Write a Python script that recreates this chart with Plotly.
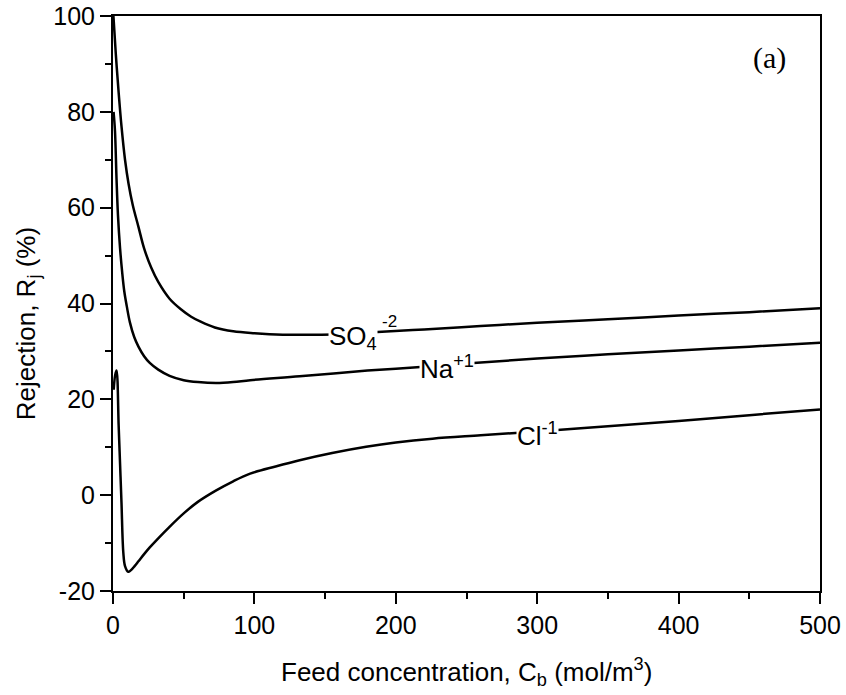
import numpy as np
import plotly.graph_objects as go

# Feed concentration (mol/m3) and rejection (%) for each ion
so4_x = [0.3, 2, 4, 6, 8.5, 11, 14, 18, 22, 27, 32, 40, 48, 55, 62, 72, 85, 100, 120, 140, 160, 184, 220, 260, 300, 350, 400, 450, 500]
so4_y = [100, 92, 84, 77, 70, 65, 60.5, 56, 51.5, 47.5, 44.5, 41, 38.8, 37.3, 36.2, 35, 34.2, 33.8, 33.5, 33.5, 33.6, 34, 34.6, 35.3, 36, 36.7, 37.5, 38.2, 39]

na_x = [0.4, 1.4, 2.5, 3.5, 5, 6.5, 8, 9.7, 12, 15, 18, 22, 26, 32, 40, 50, 60, 73, 85, 97, 132, 180, 215, 255, 300, 350, 400, 450, 500]
na_y = [80, 76, 66, 58.5, 51.5, 46.5, 42.5, 39.5, 36, 33, 31, 29, 27.6, 26.2, 24.9, 24, 23.6, 23.4, 23.6, 24, 24.8, 26, 26.7, 27.6, 28.5, 29.4, 30.2, 31, 31.8]

cl_x = [0.5, 1.5, 2.5, 4, 5, 6, 7.3, 8.5, 10.8, 12.5, 15, 18, 22, 26, 32, 40, 50, 60, 73, 85, 97, 115, 132, 155, 179, 200, 226, 260, 300, 350, 400, 450, 500]
cl_y = [22, 25, 26, 14.5, 6.5, -1.5, -12, -14.8, -16, -15.7, -14.9, -13.8, -12.3, -10.9, -9, -6.6, -3.8, -1.4, 1, 2.9, 4.5, 6, 7.3, 8.8, 10.1, 11, 11.8, 12.5, 13.3, 14.4, 15.5, 16.7, 17.9]

# label placement along each curve (feed concentration)
label_x = {"so4": 170, "na": 236, "cl": 300}

x_ticks = [0, 100, 200, 300, 400, 500]
y_ticks = [-20, 0, 20, 40, 60, 80, 100]
y_ticktext = ["-20", "0", "20", "40", "60", "80", "100"]

FONT = "Liberation Sans, Arial, sans-serif"

fig = go.Figure()
for xs, ys in [(so4_x, so4_y), (na_x, na_y), (cl_x, cl_y)]:
    fig.add_trace(go.Scatter(x=xs, y=ys, mode="lines",
                             line=dict(color="black", width=2.5, shape="spline", smoothing=1.0),
                             showlegend=False, hoverinfo="skip"))

def yat(xs, ys, x):
    return float(np.interp(x, xs, ys))

ann = []
ann.append(dict(x=label_x["so4"], y=yat(so4_x, so4_y, label_x["so4"]), xref="x", yref="y",
                text="SO<sub>4</sub>", showarrow=False, bgcolor="white", borderpad=0,
                font=dict(family=FONT, size=26, color="black"), yshift=-4))
ann.append(dict(x=label_x["so4"], y=yat(so4_x, so4_y, label_x["so4"]), xref="x", yref="y",
                text="-2", showarrow=False, xshift=36, yshift=12,
                font=dict(family=FONT, size=17, color="black")))
ann.append(dict(x=label_x["na"], y=yat(na_x, na_y, label_x["na"]), xref="x", yref="y",
                text="Na<sup>+1</sup>", showarrow=False, bgcolor="white", borderpad=0,
                font=dict(family=FONT, size=26, color="black"), yshift=-3))
ann.append(dict(x=label_x["cl"], y=yat(cl_x, cl_y, label_x["cl"]), xref="x", yref="y",
                text="Cl<sup>-1</sup>", showarrow=False, bgcolor="white", borderpad=0,
                font=dict(family=FONT, size=26, color="black"), yshift=-3))
ann.append(dict(x=0.928, y=0.927, xref="paper", yref="paper", text="(a)", showarrow=False,
                xanchor="center", yanchor="middle",
                font=dict(family="Liberation Serif, Times New Roman, serif", size=30, color="black")))
ann.append(dict(x=0.5, y=-0.141, xref="paper", yref="paper", showarrow=False,
                xanchor="center", yanchor="middle",
                text="Feed concentration, C<sub>b</sub> (mol/m<sup>3</sup>)",
                font=dict(family=FONT, size=26, color="black")))
ann.append(dict(x=-0.1216, y=0.464, xref="paper", yref="paper", showarrow=False, textangle=-90,
                xanchor="center", yanchor="middle",
                text="Rejection, R<sub>j</sub> (%)",
                font=dict(family=FONT, size=26, color="black")))

axis_common = dict(showline=True, linecolor="black", linewidth=2, mirror=True,
                   ticks="outside", ticklen=11, tickwidth=2, tickcolor="black",
                   showgrid=False, zeroline=False, automargin=False,
                   tickfont=dict(family=FONT, size=25, color="black"))

fig.update_layout(
    width=846, height=695,
    margin=dict(l=113, r=26, t=16, b=104),
    paper_bgcolor="white", plot_bgcolor="white",
    xaxis=dict(range=[0, 500], tickvals=x_ticks,
               minor=dict(ticks="outside", ticklen=6, tickwidth=2, tickcolor="black", dtick=50, showgrid=False),
               **axis_common),
    yaxis=dict(range=[-20, 100], tickvals=y_ticks, ticktext=y_ticktext,
               minor=dict(ticks="outside", ticklen=6, tickwidth=2, tickcolor="black", dtick=10, showgrid=False),
               **axis_common),
    annotations=ann,
)

fig.write_html("out.html")
